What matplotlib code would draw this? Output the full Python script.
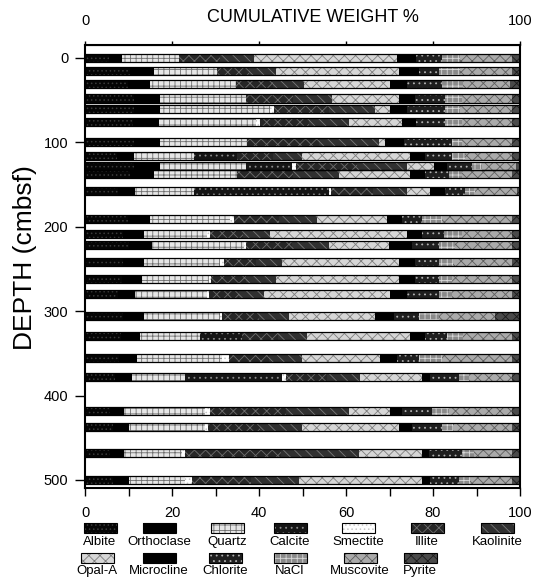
import matplotlib
matplotlib.use('Agg')
import matplotlib.pyplot as plt
from matplotlib.patches import Rectangle
import numpy as np

FONT = ['Liberation Sans Narrow', 'Liberation Sans', 'DejaVu Sans']
plt.rcParams['font.family'] = FONT
plt.rcParams['hatch.linewidth'] = 0.6

# depth of each sample (mbsf) and weight % of each mineral, left to right
depth = [0, 15, 31, 48, 61, 76, 99, 116, 128, 138, 158, 191, 209, 221,
         242, 262, 280, 306, 329, 355, 378, 418, 437, 468, 500]

albite     = [5.5, 10.3, 9.8, 11.2, 11.2, 11.0, 11.2, 7.3, 11.2, 10.3, 7.5, 9.8, 8.8,
              10.0, 8.8, 8.5, 7.5, 8.8, 8.3, 7.8, 7.0, 5.8, 6.5, 5.8, 6.5]
orthoclase = [3.0, 5.5, 5.2, 6.1, 6.1, 5.9, 6.1, 3.9, 6.1, 5.5, 4.1, 5.2, 4.7,
              5.4, 4.7, 4.6, 4.1, 4.7, 4.4, 4.2, 3.8, 3.1, 3.5, 3.1, 3.5]
quartz     = [13.0, 14.5, 19.6, 19.6, 25.3, 22.3, 19.9, 13.8, 19.6, 19.2, 13.4, 18.4, 14.5,
              21.1, 17.6, 15.3, 16.4, 17.6, 13.8, 19.5, 12.3, 18.8, 17.7, 13.4, 13.1]
calcite    = [0, 0, 0, 0, 0, 0, 0, 10.0, 10.7, 0, 31.0, 0, 0,
              0, 0, 0, 0, 0, 9.6, 0, 22.2, 0, 0, 0, 0]
smectite   = [0, 0, 0, 0, 0.8, 1.1, 0, 0, 0.8, 0, 0.6, 0.8, 0.8,
              0.5, 0.8, 0.6, 0.4, 0.4, 0, 1.5, 0.9, 1.1, 0.6, 0.8, 1.5]
illite     = [9.5, 7.4, 8.6, 10.9, 12.8, 11.2, 16.7, 8.2, 14.1, 12.8, 9.6, 10.5, 7.6,
              10.5, 7.4, 8.1, 7.0, 8.4, 8.2, 9.3, 9.4, 17.5, 11.9, 21.9, 13.5]
kaolinite  = [7.8, 6.1, 7.1, 9.0, 10.5, 9.1, 13.6, 6.7, 11.5, 10.5, 7.8, 8.6, 6.2,
              8.5, 6.0, 6.7, 5.7, 6.9, 6.7, 7.6, 7.7, 14.3, 9.7, 17.9, 11.0]
opal_a     = [32.9, 28.3, 19.9, 15.3, 3.5, 12.3, 1.5, 24.9, 6.2, 16.5, 5.4, 16.1, 31.4,
              13.8, 26.8, 28.3, 29.1, 19.9, 23.8, 18.0, 14.2, 9.6, 22.2, 14.6, 28.4]
microcline = [4.3, 4.6, 3.8, 3.8, 3.8, 3.1, 4.3, 3.4, 3.0, 3.4, 3.4, 3.5, 3.5,
              5.4, 3.8, 3.8, 3.8, 4.3, 3.4, 3.8, 1.9, 2.7, 3.1, 1.5, 1.9]
chlorite   = [6.0, 4.6, 8.0, 6.9, 8.8, 6.8, 11.1, 6.2, 5.8, 5.4, 4.6, 4.6, 5.0,
              6.1, 5.4, 5.4, 7.3, 5.7, 5.0, 5.0, 6.5, 6.9, 6.9, 7.7, 6.5]
nacl       = [4.3, 5.0, 5.0, 3.9, 3.5, 3.9, 2.3, 3.0, 2.3, 3.1, 2.3, 4.6, 4.2,
              3.8, 3.4, 3.1, 3.1, 4.6, 3.8, 5.3, 2.3, 3.8, 2.6, 2.7, 2.7]
muscovite  = [11.9, 11.9, 10.8, 11.5, 11.9, 11.5, 11.5, 10.8, 7.7, 11.5, 9.6, 16.1, 11.5,
              13.1, 13.5, 13.8, 13.8, 13.0, 11.2, 16.2, 10.0, 14.6, 13.5, 8.8, 9.6]
pyrite     = [1.8, 1.8, 2.2, 1.8, 1.8, 1.8, 1.8, 1.8, 1.0, 1.8, 0.7, 1.8, 1.8,
              1.8, 1.8, 1.8, 1.8, 5.7, 1.8, 1.8, 1.8, 1.8, 1.8, 1.8, 1.8]

minerals = ['Albite', 'Orthoclase', 'Quartz', 'Calcite', 'Smectite', 'Illite', 'Kaolinite',
            'Opal-A', 'Microcline', 'Chlorite', 'NaCl', 'Muscovite', 'Pyrite']
series = [albite, orthoclase, quartz, calcite, smectite, illite, kaolinite,
          opal_a, microcline, chlorite, nacl, muscovite, pyrite]

# (face, hatch, hatch colour) -- greyscale fills imitating the printed patterns
styles = {
    'Albite':     ('#050505', '....', '#3a3a3a'),
    'Orthoclase': ('#000000', None,   '#000000'),
    'Quartz':     ('#e6e6e6', '+++',  '#6e6e6e'),
    'Calcite':    ('#151515', '...',  '#8a8a8a'),
    'Smectite':   ('#ffffff', '....', '#c8c8c8'),
    'Illite':     ('#262626', 'xxx',  '#6e6e6e'),
    'Kaolinite':  ('#303030', '\\\\\\', '#7a7a7a'),
    'Opal-A':     ('#d6d6d6', 'xxx',  '#7e7e7e'),
    'Microcline': ('#000000', None,   '#000000'),
    'Chlorite':   ('#1e1e1e', '...',  '#b0b0b0'),
    'NaCl':       ('#8a8a8a', '+++',  '#d8d8d8'),
    'Muscovite':  ('#aaaaaa', 'xxx',  '#5e5e5e'),
    'Pyrite':     ('#4a4a4a', 'xxx',  '#1a1a1a'),
}

BAR_H = 9.5

fig = plt.figure(figsize=(5.44, 5.8), dpi=100)
ax = fig.add_axes([85 / 544, 1 - 488 / 580, 435 / 544, 443 / 580])

left = np.zeros(len(depth))
for name, vals in zip(minerals, series):
    face, hatch, hcol = styles[name]
    ax.barh(depth, vals, height=BAR_H, left=left, color=face, hatch=hatch,
            edgecolor=hcol, linewidth=0, zorder=2)
    left = left + np.array(vals)

# outline round each sample bar
ax.barh(depth, left, height=BAR_H, fill=False, edgecolor='black', linewidth=0.9, zorder=3)

ax.set_xlim(0, 100)
ax.set_ylim(509.5, -15.4)

ax.set_xticks([0, 20, 40, 60, 80, 100])
ax.set_xticks([10, 30, 50, 70, 90], minor=True)
ax.set_yticks([0, 100, 200, 300, 400, 500])
ax.tick_params(axis='x', which='both', direction='out', length=6, width=1, labelsize=10.5, pad=7)
ax.tick_params(axis='y', direction='out', length=7, width=1, labelsize=10.5, pad=5)
for spine in ax.spines.values():
    spine.set_linewidth(1.5)

top = ax.secondary_xaxis('top')
top.set_xticks([0, 20, 40, 60, 80, 100], ['0', '', '', '', '', '100'])
top.tick_params(direction='out', length=3, width=1, labelsize=10.5, pad=9)

fig.text(313 / 544, 1 - 17 / 580, 'CUMULATIVE WEIGHT %', ha='center', va='center',
         fontsize=13)
fig.text(25 / 544, 1 - 258 / 580, 'DEPTH (cmbsf)', ha='center', va='center',
         rotation=90, fontsize=19)

# legend: swatch with the name underneath, two rows
lax = fig.add_axes([0, 0, 1, 70 / 580])
lax.set_xlim(0, 544)
lax.set_ylim(580, 510)
lax.axis('off')
leg_x = [100, 159, 227, 290, 358, 427, 497, 97, 159, 225, 290, 360, 420]
for i, name in enumerate(minerals):
    face, hatch, hcol = styles[name]
    row = 0 if i < 7 else 1
    cx = leg_x[i]
    cy = 528 if row == 0 else 557.5
    ty = 542 if row == 0 else 571
    lax.add_patch(Rectangle((cx - 16.5, cy - 5), 33, 10, facecolor=face, hatch=hatch,
                            edgecolor=hcol, linewidth=0))
    lax.add_patch(Rectangle((cx - 16.5, cy - 5), 33, 10, fill=False, edgecolor='black',
                            linewidth=0.8))
    lax.text(cx, ty, name, ha='center', va='center', fontsize=9.5)

fig.savefig('out.png', dpi=100)
